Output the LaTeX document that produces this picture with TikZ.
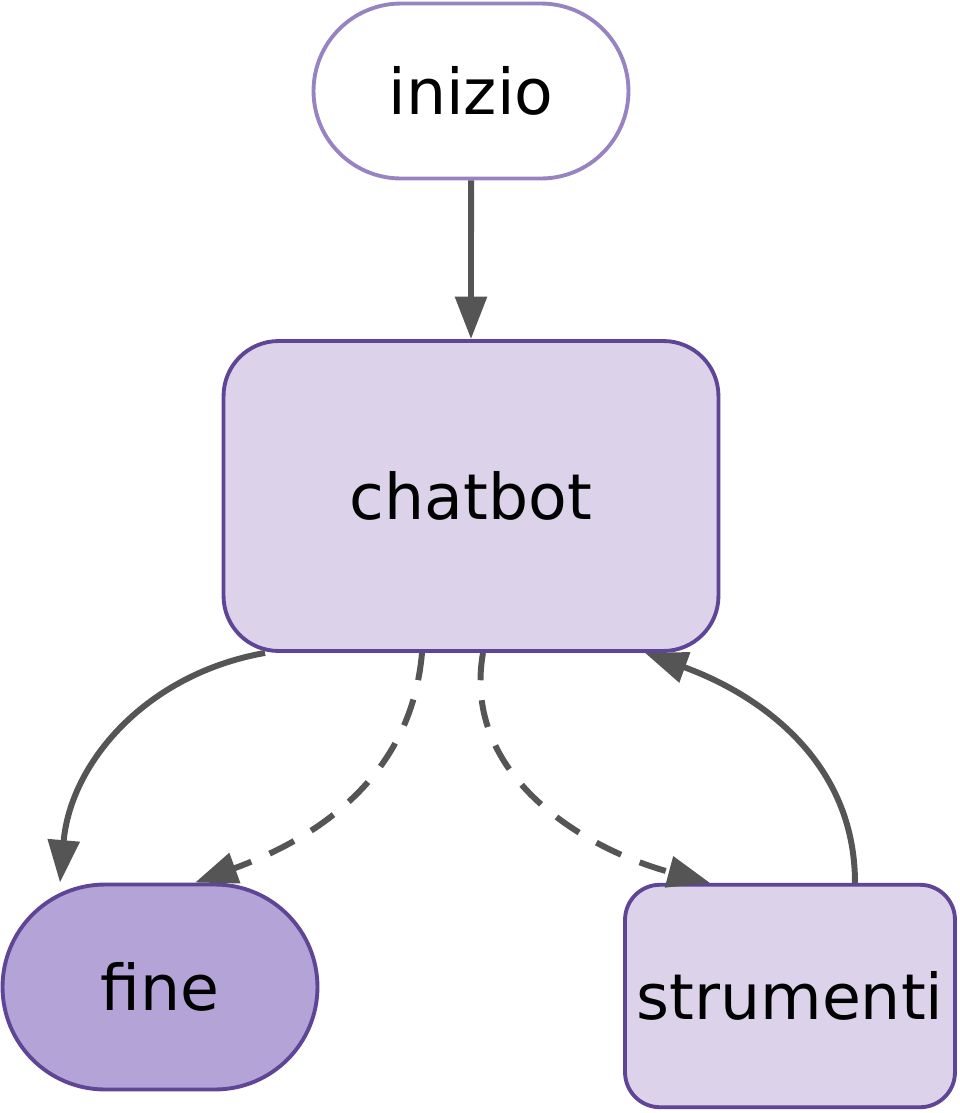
\documentclass[tikz,border=0pt]{standalone}
\usepackage{fontspec}
\setmainfont{DejaVu Sans}
\usetikzlibrary{shapes.misc,arrows.meta,positioning}
\definecolor{lilac}{HTML}{DCD3EA}
\definecolor{lilacdark}{HTML}{B3A3D6}
\definecolor{violet}{HTML}{5E4596}
\definecolor{violetlight}{HTML}{9783C2}
\definecolor{edgegray}{HTML}{555555}
\tikzset{
  state/.style={draw=violet, line width=2.2pt, fill=lilac, rounded corners=1.1cm,
    inner sep=0pt, font=\fontsize{36}{42}\selectfont},
  terminal/.style={state, rounded rectangle, rounded corners=0pt},
  flow/.style={draw=edgegray, line width=3.4pt, -{Triangle[length=0.85cm,width=0.62cm]}},
  maybe/.style={flow, dash pattern=on 0.55cm off 0.4cm}
}
\begin{document}
\begin{tikzpicture}[x=0.02cm,y=-0.02cm]
  \useasboundingbox (0,0) rectangle (960,1113);
  \node (inizio) [terminal, fill=white, draw=violetlight, minimum width=6.3cm, minimum height=3.5cm] at (471,91) {inizio};
  \node (chatbot) [state, minimum width=9.9cm, minimum height=6.2cm] at (471,496) {chatbot};
  \node (fine) [terminal, fill=lilacdark, minimum width=6.3cm, minimum height=4.1cm] at (160,987) {fine};
  \node (strumenti) [state, rounded corners=0.7cm, minimum width=6.6cm, minimum height=4.45cm] at (790,996) {strumenti};

  \draw[flow] (inizio) -- (chatbot);
  \draw[flow] ([xshift=-4.12cm]chatbot.south) to[out=190,in=85] ([xshift=-2cm]fine.north);
  \draw[maybe] ([xshift=-0.98cm]chatbot.south) to[out=-95,in=20] ([xshift=0.7cm]fine.north);
  \draw[maybe] ([xshift=0.24cm]chatbot.south) to[out=-100,in=165] ([xshift=-1.6cm]strumenti.north);
  \draw[flow] ([xshift=1.3cm]strumenti.north) to[out=90,in=-20] ([xshift=3.48cm]chatbot.south);
\end{tikzpicture}
\end{document}
